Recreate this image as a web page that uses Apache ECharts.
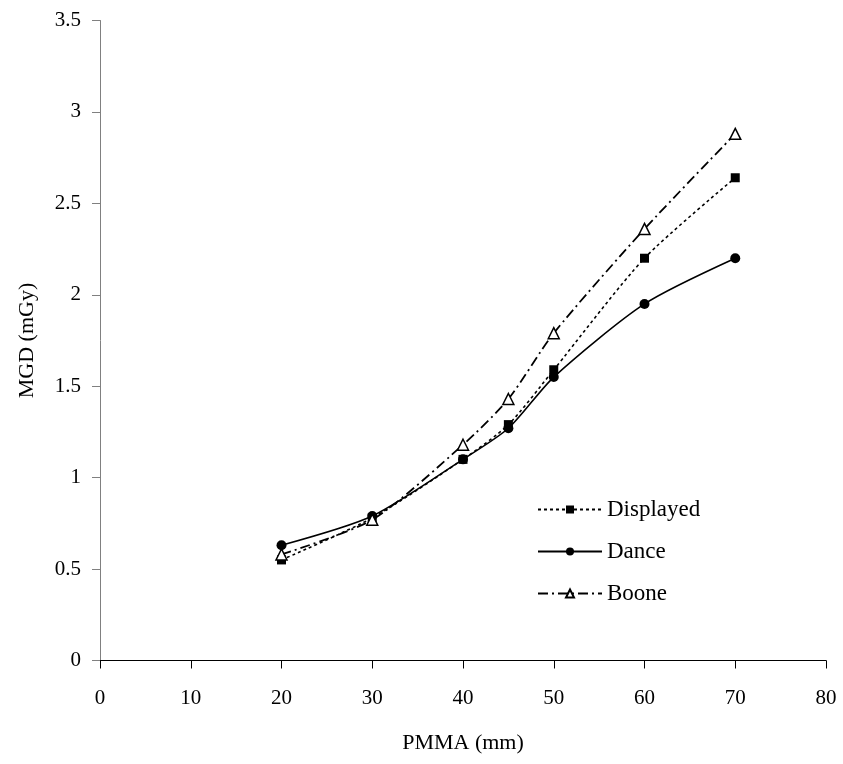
<!DOCTYPE html>
<html>
<head>
<meta charset="utf-8">
<script src="https://cdn.jsdelivr.net/npm/echarts@6/dist/echarts.min.js"></script>
<style>html,body{margin:0;padding:0;background:#fff}#c{width:843px;height:764px}</style>
</head>
<body>
<div id="c"></div>
<script>
const pmma = [20, 30, 40, 45, 50, 60, 70];
const displayed = [0.55, 0.78, 1.10, 1.29, 1.59, 2.20, 2.64];
const dance = [0.63, 0.79, 1.10, 1.27, 1.55, 1.95, 2.20];
const boone = [0.58, 0.77, 1.18, 1.43, 1.79, 2.36, 2.88];
const seriesNames = ['Displayed', 'Dance', 'Boone'];

const FONT = '"Liberation Serif", "Times New Roman", serif';
const pairs = arr => pmma.map((x, i) => [x, arr[i]]);

const chart = echarts.init(document.getElementById('c'));
chart.setOption({
  animation: false,
  backgroundColor: '#fff',
  grid: { left: 100, right: 17, top: 20.5, bottom: 103.5 },
  legend: {
    orient: 'vertical',
    left: 532,
    top: 493,
    itemWidth: 64,
    itemHeight: 10,
    itemGap: 19,
    textStyle: { fontFamily: FONT, fontSize: 23, color: '#000' },
    data: seriesNames
  },
  xAxis: {
    type: 'value', min: 0, max: 80, interval: 10,
    name: 'PMMA (mm)', nameLocation: 'middle', nameGap: 72,
    nameTextStyle: { fontFamily: FONT, fontSize: 22, color: '#000' },
    axisLine: { lineStyle: { color: '#000', width: 1 } },
    axisTick: { show: true, length: 8, lineStyle: { color: '#000' } },
    axisLabel: { fontFamily: FONT, fontSize: 21, color: '#000', margin: 27 },
    splitLine: { show: false }
  },
  yAxis: {
    type: 'value', min: 0, max: 3.5, interval: 0.5,
    name: 'MGD (mGy)', nameLocation: 'middle', nameGap: 62, nameRotate: 90,
    nameTextStyle: { fontFamily: FONT, fontSize: 22, color: '#000' },
    axisLine: { show: true, lineStyle: { color: '#808080', width: 1 } },
    axisTick: { show: true, length: 8, lineStyle: { color: '#808080' } },
    axisLabel: { fontFamily: FONT, fontSize: 21, color: '#000', margin: 19 },
    splitLine: { show: false }
  },
  series: [
    {
      name: seriesNames[0], type: 'line', data: pairs(displayed),
      smooth: 0.25, symbol: 'rect', symbolSize: 9,
      itemStyle: { color: '#000' },
      lineStyle: { color: '#000', width: 1.6, type: [3, 3] }
    },
    {
      name: seriesNames[1], type: 'line', data: pairs(dance),
      smooth: 0.25, symbol: 'circle', symbolSize: 10,
      itemStyle: { color: '#000' },
      lineStyle: { color: '#000', width: 1.6, type: 'solid' }
    },
    {
      name: seriesNames[2], type: 'line', data: pairs(boone),
      smooth: 0.25, symbol: 'triangle', symbolSize: 11,
      itemStyle: { color: '#fff', borderColor: '#000', borderWidth: 1.5 },
      lineStyle: { color: '#000', width: 1.8, type: [10, 4, 2, 4] }
    }
  ]
});
</script>
</body>
</html>
